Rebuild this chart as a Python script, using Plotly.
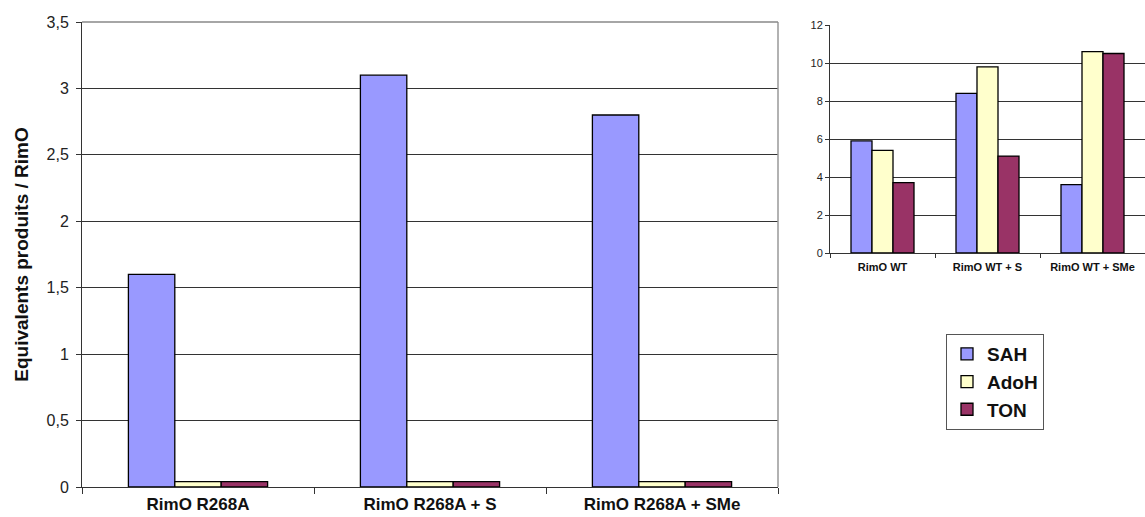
import plotly.graph_objects as go

# Data
series = ["SAH", "AdoH", "TON"]
colors = {"SAH": "#9999FF", "AdoH": "#FFFFCC", "TON": "#993366"}

cats_left = ["RimO R268A", "RimO R268A + S", "RimO R268A + SMe"]
left_sah = [1.6, 3.1, 2.8]
left_adoh = [0.04, 0.04, 0.04]
left_ton = [0.04, 0.04, 0.04]

cats_right = ["RimO WT", "RimO WT + S", "RimO WT + SMe"]
right_sah = [5.9, 8.4, 3.6]
right_adoh = [5.4, 9.8, 10.6]
right_ton = [3.7, 5.1, 10.5]

left_vals = {"SAH": left_sah, "AdoH": left_adoh, "TON": left_ton}
right_vals = {"SAH": right_sah, "AdoH": right_adoh, "TON": right_ton}

fig = go.Figure()
for s in series:
    fig.add_trace(go.Bar(
        x=cats_left, y=left_vals[s], name=s, xaxis="x", yaxis="y",
        marker=dict(color=colors[s], line=dict(color="#000000", width=1.3)),
        legendgroup=s, showlegend=True,
    ))
for s in series:
    fig.add_trace(go.Bar(
        x=cats_right, y=right_vals[s], name=s, xaxis="x2", yaxis="y2",
        marker=dict(color=colors[s], line=dict(color="#000000", width=1.3)),
        legendgroup=s, showlegend=False,
    ))

W, H = 1145, 517
def px(x): return x / W
def py(y): return (H - y) / H

FONT = "Arial, Liberation Sans, sans-serif"

fig.update_layout(
    width=W, height=H, autosize=False,
    margin=dict(l=0, r=0, t=0, b=0, pad=0),
    paper_bgcolor="white", plot_bgcolor="white",
    separators=", ",
    barmode="group",
    bargap=0.4, bargroupgap=0,
    font=dict(family=FONT, color="#111111"),
    xaxis=dict(
        domain=[px(82), px(778)], anchor="y", automargin=False,
        type="category", range=[-0.5, 2.5],
        tickson="boundaries", ticks="outside", ticklen=6, tickcolor="#333",
        showline=True, linecolor="#333", linewidth=1,
        tickfont=dict(size=17, family=FONT, color="#111", weight="bold"),
        ticklabelstandoff=2,
        showgrid=False,
    ),
    yaxis=dict(
        domain=[py(487), py(22)], anchor="x", automargin=False,
        range=[0, 3.5], dtick=0.5, tick0=0,
        ticks="outside", ticklen=5, tickcolor="#333",
        showline=True, linecolor="#333", linewidth=1,
        showgrid=True, gridcolor="#333333", gridwidth=1,
        tickfont=dict(size=16, color="#222"),
        ticklabelstandoff=4,
        title=dict(text="<b>Equivalents produits / RimO</b>", font=dict(size=19, color="#111"), standoff=12),
        zeroline=False,
    ),
    xaxis2=dict(
        domain=[px(830), 1.0], anchor="y2", automargin=False,
        type="category", range=[-0.5, 2.5],
        tickson="boundaries", ticks="outside", ticklen=4, tickcolor="#333",
        showline=True, linecolor="#333", linewidth=1,
        tickfont=dict(size=11, family=FONT, color="#111", weight="bold"),
        ticklabelstandoff=4,
        showgrid=False,
    ),
    yaxis2=dict(
        domain=[py(253), py(25)], anchor="x2", automargin=False,
        range=[0, 12], dtick=2, tick0=0,
        ticks="outside", ticklen=4, tickcolor="#333",
        showline=True, linecolor="#333", linewidth=1,
        showgrid=True, gridcolor="#333333", gridwidth=1,
        tickfont=dict(size=11, color="#222"),
        zeroline=False,
    ),
    legend=dict(
        x=px(946), y=py(334), xanchor="left", yanchor="top",
        bgcolor="white", bordercolor="#555555", borderwidth=1,
        font=dict(size=19, color="#111", weight="bold"),
        traceorder="grouped", tracegroupgap=0,
        itemwidth=30,
    ),
)

# Excel-style plot-area frame (grey) on top and right of the main chart
fig.add_shape(type="line", xref="x domain", yref="y domain", x0=1, x1=1, y0=0, y1=1,
              line=dict(color="#999999", width=1.5))
fig.add_shape(type="line", xref="x domain", yref="y domain", x0=0, x1=1, y0=1, y1=1,
              line=dict(color="#888888", width=1.5))

fig.write_html(
    "out.html",
    config={"responsive": False, "displayModeBar": False},
    post_script="document.body.style.margin='0';document.body.style.overflow='hidden';",
)
